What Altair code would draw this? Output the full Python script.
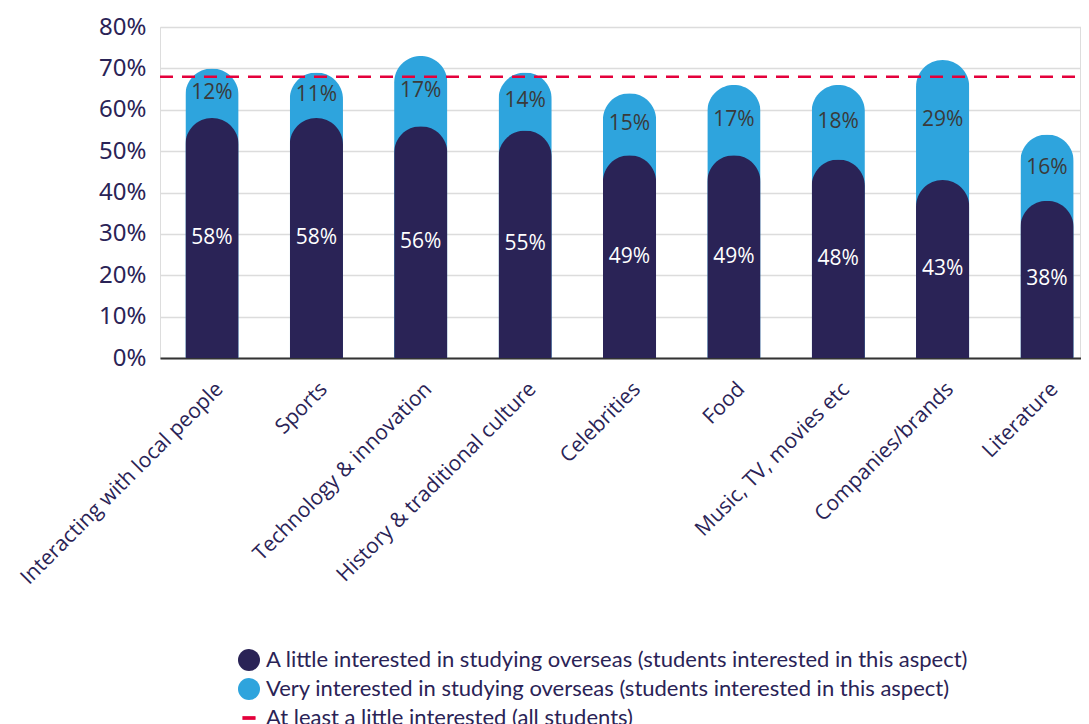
import altair as alt
import pandas as pd

categories = ["Interacting with local people", "Sports", "Technology & innovation",
              "History & traditional culture", "Celebrities", "Food",
              "Music, TV, movies etc", "Companies/brands", "Literature"]
little = [58, 58, 56, 55, 49, 49, 48, 43, 38]
very = [12, 11, 17, 14, 15, 17, 18, 29, 16]
all_students = 68
series_names = ["A little interested in studying overseas (students interested in this aspect)",
                "Very interested in studying overseas (students interested in this aspect)",
                "At least a little interested (all students)"]

NAVY = "#2a2356"
BLUE = "#2ea4dd"
RED = "#e4003b"

df = pd.DataFrame({
    "cat": categories,
    "little": little,
    "very": very,
})
df["total"] = df["little"] + df["very"]
df["mid_little"] = df["little"] / 2
df["mid_very"] = df["little"] + df["very"] / 2
df["lab_little"] = df["little"].astype(str) + "%"
df["lab_very"] = df["very"].astype(str) + "%"

ref_df = pd.DataFrame({"v": [all_students]})
leg_df = pd.DataFrame({"series": series_names})

W = 920
H = 331

xenc = alt.X("cat:N", sort=categories, title=None,
             scale=alt.Scale(paddingInner=0.49, paddingOuter=0.243, range=[0, 939]),
             axis=alt.Axis(labelAngle=-45, labelFontSize=21, labelColor=NAVY,
                           labelFont="Open Sans", labelPadding=20, ticks=False,
                           domainColor="#333333", domainWidth=2, grid=False,
                           labelLimit=400))
yscale = alt.Scale(domain=[0, 0.8], nice=False)
yaxis = alt.Axis(format=".0%", values=[0, 0.1, 0.2, 0.3, 0.4, 0.5, 0.6, 0.7, 0.8],
                 labelFontSize=24, labelColor=NAVY, labelFont="Noto Sans",
                 labelPadding=14, ticks=False, domain=False, gridColor="#dcdcdc",
                 gridWidth=1.5, title=None)

base = alt.Chart(df)

light = base.mark_bar(color=BLUE, cornerRadiusTopLeft=27, cornerRadiusTopRight=27).encode(
    x=xenc,
    y=alt.Y("t:Q", scale=yscale, axis=yaxis),
).transform_calculate(t="datum.total/100")

dark = base.mark_bar(color=NAVY, cornerRadiusTopLeft=27, cornerRadiusTopRight=27).encode(
    x=alt.X("cat:N", sort=categories),
    y=alt.Y("l:Q"),
).transform_calculate(l="datum.little/100")

txt_dark = base.mark_text(color="white", fontSize=21, font="Open Sans", baseline="middle").encode(
    x=alt.X("cat:N", sort=categories),
    y=alt.Y("m:Q"),
    text="lab_little:N",
).transform_calculate(m="datum.mid_little/100")

txt_light = base.mark_text(color="#3a3a3a", fontSize=21, font="Open Sans", baseline="middle").encode(
    x=alt.X("cat:N", sort=categories),
    y=alt.Y("m:Q"),
    text="lab_very:N",
).transform_calculate(m="datum.mid_very/100")

rule = alt.Chart(ref_df).mark_rule(color=RED, strokeWidth=2.5, strokeDash=[13, 9]).encode(
    y=alt.Y("r:Q"),
    x=alt.value(0),
    x2=alt.value(W + 10),
).transform_calculate(r="datum.v/100")

leg = alt.Legend(title=None, orient="none", legendX=78, legendY=622,
                 symbolSize=484, symbolOpacity=1, symbolStrokeWidth=0,
                 labelFontSize=22, labelColor=NAVY, labelFont="Lato",
                 labelLimit=900, rowPadding=7, labelOffset=6)

legend_pts = alt.Chart(leg_df).mark_point(filled=True, opacity=0, size=10).encode(
    color=alt.Color("series:N", scale=alt.Scale(domain=series_names, range=[NAVY, BLUE, RED]),
                    legend=leg),
    shape=alt.Shape("series:N", scale=alt.Scale(domain=series_names,
                                                range=["circle", "circle", "M-0.6,-0.17H0.6V0.17H-0.6Z"]),
                    legend=leg),
)

chart = alt.layer(light, dark, txt_dark, txt_light, rule, legend_pts).properties(
    width=W, height=H,
    autosize=alt.AutoSizeParams(type="none"),
    padding={"left": 152, "top": 19, "right": 1, "bottom": 366},
).configure_view(stroke=None).configure(background="white")

chart.save("out.html", embed_options={"renderer": "svg", "actions": False})
